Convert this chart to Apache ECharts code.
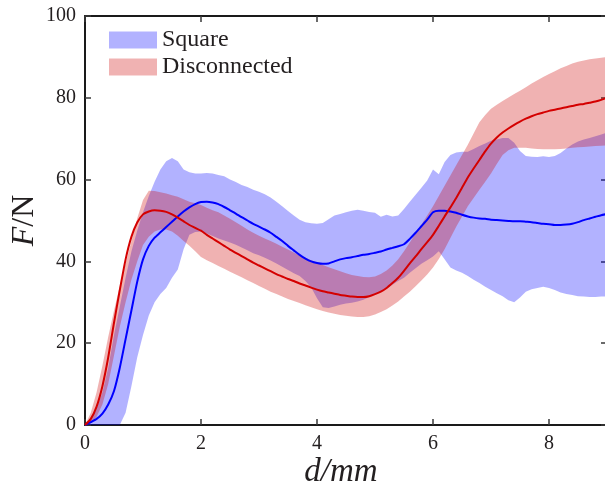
<!DOCTYPE html>
<html>
<head>
<meta charset="utf-8">
<script src="https://cdn.jsdelivr.net/npm/echarts@6/dist/echarts.min.js"></script>
<style>
  html, body { margin: 0; padding: 0; background: #ffffff; }
  #chart { width: 605px; height: 481px; }
</style>
</head>
<body>
<div id="chart"></div>
<script>
// displacement d (mm), sampled every 0.1 mm
const d = [
  0.0, 0.1, 0.2, 0.3, 0.4, 0.5, 0.6, 0.7, 0.8, 0.9,
  1.0, 1.1, 1.2, 1.3, 1.4, 1.5, 1.6, 1.7, 1.8, 1.9,
  2.0, 2.1, 2.2, 2.3, 2.4, 2.5, 2.6, 2.7, 2.8, 2.9,
  3.0, 3.1, 3.2, 3.3, 3.4, 3.5, 3.6, 3.7, 3.8, 3.9,
  4.0, 4.1, 4.2, 4.3, 4.4, 4.5, 4.6, 4.7, 4.8, 4.9,
  5.0, 5.1, 5.2, 5.3, 5.4, 5.5, 5.6, 5.7, 5.8, 5.9,
  6.0, 6.1, 6.2, 6.3, 6.4, 6.5, 6.6, 6.7, 6.8, 6.9,
  7.0, 7.1, 7.2, 7.3, 7.4, 7.5, 7.6, 7.7, 7.8, 7.9,
  8.0, 8.1, 8.2, 8.3, 8.4, 8.5, 8.6, 8.7, 8.8, 8.9,
  9.0
];

// Square: mean force and spread (N)
const squareMean = [
  0, 0.7, 1.5, 2.8, 5, 8.3, 14, 21, 28, 35,
  40.5, 43.8, 45.8, 47.1, 48.4, 49.7, 51, 52.2, 53.2, 54,
  54.5, 54.6, 54.4, 54, 53.3, 52.5, 51.7, 50.8, 50, 49.2,
  48.5, 47.8, 47, 46, 45, 43.8, 42.7, 41.6, 40.7, 40,
  39.6, 39.4, 39.5, 40, 40.5, 40.8, 41, 41.3, 41.6, 41.8,
  42.1, 42.4, 42.9, 43.3, 43.7, 44.2, 45.5, 47, 48.6, 50.2,
  52, 52.4, 52.4, 52.2, 51.9, 51.4, 51, 50.7, 50.5, 50.4,
  50.2, 50.1, 50, 49.9, 49.8, 49.8, 49.7, 49.6, 49.4, 49.2,
  49.1, 48.9, 48.9, 49, 49.2, 49.6, 50.1, 50.5, 50.9, 51.3,
  51.6
];
const squareHigh = [
  0, 1.5, 4, 8, 14, 22, 29, 36, 42.4, 47.5,
  52, 56, 59.5, 62.5, 64.5, 65.3, 64.5, 62.5, 61.8, 61.5,
  61.5, 61.6, 61.5, 61.1, 60.8, 60, 59.4, 58.7, 58.2, 57.5,
  57, 56.4, 55.6, 54.6, 53.5, 52.3, 51.2, 50.2, 49.6, 49.3,
  49.2, 49.4, 50.3, 51.2, 51.6, 52, 52.4, 52.6, 52.4, 52.1,
  51.9, 50.9, 51.4, 51, 51.2, 52.8, 54.6, 56.3, 58, 59.8,
  62.5, 61.3, 64.3, 66, 66.6, 66.8, 66.8, 67.5, 68.2, 68.8,
  69.5, 69.8, 70.2, 70.2, 69, 67, 65.8, 65.6, 65.5, 65.7,
  65.5, 65.8, 66.5, 67.6, 68.6, 69.3, 69.8, 70.2, 70.6, 71,
  71.5
];
const squareLow = [
  0, 0, 0, 0, 0, 0, 0, 3, 9.5, 16.5,
  22, 26.8, 30, 32, 33.5, 36, 38, 43, 46.5, 47.2,
  47.3, 46.8, 46.2, 45.6, 45.1, 44.6, 44.1, 43.4, 42.7, 42,
  41.5, 40.9, 40.2, 39.5, 38.7, 37.9, 37.1, 36.4, 35.2, 33.6,
  31, 28.8, 28.6, 29, 29.4, 29.7, 29.9, 30.2, 30.6, 31.3,
  32, 32.6, 33.3, 34.3, 35.2, 36, 37.2, 38.3, 39.4, 40.3,
  41.2, 42.5, 40.5, 38.5, 37.8, 37.2, 36.4, 35.5, 34.7, 33.8,
  33, 32.2, 31.5, 30.5, 30, 31.2, 32.6, 33.2, 33.5, 33.8,
  33.5, 33, 32.4, 32, 31.8, 31.5, 31.4, 31.3, 31.3, 31.4,
  31.4
];

// Disconnected: mean force and spread (N)
const discMean = [
  0, 1.5, 4.5, 9.5, 16.5, 25, 33, 40.5, 46, 49.5,
  51.5, 52.2, 52.5, 52.4, 52.1, 51.5, 50.7, 49.8, 48.9, 48.2,
  47.5, 46.5, 45.6, 44.7, 43.8, 42.9, 42.1, 41.3, 40.5, 39.7,
  39, 38.3, 37.6, 36.9, 36.3, 35.7, 35.2, 34.6, 34.1, 33.6,
  33.1, 32.7, 32.4, 32.1, 31.8, 31.6, 31.4, 31.3, 31.3, 31.5,
  32, 32.6, 33.5, 34.7, 36, 37.7, 39.5, 41.2, 43, 44.7,
  46.5, 48.7, 51, 53.2, 55.5, 58, 60.5, 62.7, 64.8, 66.9,
  68.8, 70.3, 71.5, 72.5, 73.4, 74.2, 74.9, 75.5, 76, 76.4,
  76.8, 77.1, 77.4, 77.7, 78, 78.3, 78.5, 78.8, 79.1, 79.5,
  80
];
const discHigh = [
  0, 3, 8, 14.5, 21.5, 28, 34, 39.5, 45, 50.5,
  55, 57.3, 57.2, 56.9, 56.6, 56.2, 55.8, 55.2, 54.6, 54.2,
  53.8, 53.1, 52.5, 52, 51.2, 50.4, 49.6, 48.7, 47.8, 47,
  46.3, 45.6, 45, 44.3, 43.6, 42.9, 42.2, 41.5, 40.9, 40.3,
  39.7, 39.1, 38.6, 38.1, 37.6, 37.1, 36.7, 36.4, 36.2, 36.1,
  36.3, 36.9, 37.8, 39, 40.5, 42.5, 44.6, 46.8, 49, 51.2,
  53.5, 56, 58.5, 61, 63.5, 66, 68.5, 71.3, 74, 75.8,
  77.3, 78.3, 79.2, 80.1, 80.9, 81.7, 82.6, 83.5, 84.3, 85.1,
  85.8, 86.5, 87.2, 87.8, 88.4, 88.8, 89.1, 89.4, 89.6, 89.8,
  90
];
const discLow = [
  0, 0.5, 2, 5, 10, 17, 24, 30, 35.5, 40,
  44, 46, 47.3, 47.8, 47.8, 47.3, 46.3, 45, 43.8, 42.5,
  41.1, 40.3, 39.6, 38.9, 38.2, 37.5, 36.8, 36.1, 35.4, 34.7,
  34, 33.3, 32.6, 32, 31.4, 30.8, 30.3, 29.8, 29.3, 28.8,
  28.3, 27.9, 27.5, 27.2, 26.9, 26.7, 26.5, 26.4, 26.4, 26.6,
  27, 27.6, 28.3, 29.2, 30.2, 31.4, 32.6, 33.9, 35.3, 36.8,
  38.5, 40.6, 43, 45.7, 48.5, 51, 53.5, 55.5, 57.5, 59.5,
  61.5, 63.8, 66, 67.2, 67.8, 67.8, 67.8, 67.6, 67.5, 67.4,
  67.4, 67.4, 67.5, 67.6, 67.8, 67.9, 68, 68.1, 68.2, 68.3,
  68.4
];

const xTicks = [0, 2, 4, 6, 8];
const yTicks = [0, 20, 40, 60, 80, 100];

const FONT = 'Liberation Serif';
const INK = '#231f20';
const SQUARE_FILL = 'rgba(0,0,255,0.3)';
const DISC_FILL = 'rgba(204,0,0,0.3)';

const pairs = ys => d.map((x, i) => [x, ys[i]]);

// one closed polygon per band: upper edge left→right, lower edge right→left
function bandSeries(name, lo, hi, fill, z) {
  return {
    name: name,
    type: 'custom',
    silent: true,
    z: z,
    itemStyle: { color: fill },
    encode: { x: 0, y: [1, 2] },
    data: d.map((x, i) => [x, lo[i], hi[i]]),
    renderItem: function (params, api) {
      if (params.dataIndex !== 0) return null;
      const pts = [];
      for (let i = 0; i < d.length; i++) pts.push(api.coord([d[i], hi[i]]));
      for (let i = d.length - 1; i >= 0; i--) pts.push(api.coord([d[i], lo[i]]));
      return { type: 'polygon', shape: { points: pts }, style: { fill: fill, stroke: null } };
    }
  };
}

const frameLine = { show: true, onZero: false, lineStyle: { color: '#1a1a1a', width: 2 } };
const innerTick = { show: true, inside: true, length: 6, lineStyle: { color: '#3a3a3a', width: 1.5 } };

const chart = echarts.init(document.getElementById('chart'), null, { renderer: 'canvas' });

chart.setOption({
  animation: false,
  backgroundColor: '#ffffff',
  grid: { left: 85, top: 16, width: 522, height: 409, containLabel: false, outerBoundsMode: 'none' },
  legend: {
    orient: 'vertical',
    left: 109,
    top: 28,
    padding: 0,
    itemWidth: 48,
    itemHeight: 17,
    itemGap: 3,
    selectedMode: false,
    textStyle: { fontFamily: FONT, fontSize: 24, color: INK },
    data: [
      { name: 'Square', icon: 'rect', itemStyle: { color: SQUARE_FILL, borderWidth: 0 } },
      { name: 'Disconnected', icon: 'rect', itemStyle: { color: DISC_FILL, borderWidth: 0 } }
    ]
  },
  xAxis: [
    {
      type: 'value', position: 'bottom', min: 0, max: 9, interval: 2,
      axisLine: frameLine, axisTick: innerTick, splitLine: { show: false },
      axisLabel: {
        fontFamily: FONT, fontSize: 20, color: INK, margin: 9,
        formatter: v => (xTicks.indexOf(v) >= 0 ? String(v) : '')
      },
      name: 'd/mm', nameLocation: 'middle', nameGap: 31, nameMoveOverlap: false,
      nameTextStyle: { fontFamily: FONT, fontStyle: 'italic', fontSize: 33, color: INK, padding: [0, 10, 0, 0] }
    },
    {
      type: 'value', position: 'top', min: 0, max: 9, interval: 2,
      axisLine: frameLine, axisTick: innerTick, axisLabel: { show: false }, splitLine: { show: false }
    }
  ],
  yAxis: [
    {
      type: 'value', position: 'left', min: 0, max: 100, interval: 20,
      axisLine: frameLine, axisTick: innerTick, splitLine: { show: false },
      axisLabel: {
        fontFamily: FONT, fontSize: 20, color: INK, margin: 9,
        formatter: v => (yTicks.indexOf(v) >= 0 ? String(v) : '')
      },
      name: '{i|F}/N', nameLocation: 'middle', nameGap: 44, nameRotate: 90, nameMoveOverlap: false,
      nameTextStyle: {
        fontFamily: FONT, fontSize: 32, color: INK,
        rich: { i: { fontFamily: FONT, fontStyle: 'italic', fontSize: 32, color: INK } }
      }
    },
    {
      type: 'value', position: 'right', min: 0, max: 100, interval: 20,
      axisLine: frameLine, axisTick: innerTick, axisLabel: { show: false }, splitLine: { show: false }
    }
  ],
  series: [
    bandSeries('Square', squareLow, squareHigh, SQUARE_FILL, 1),
    bandSeries('Disconnected', discLow, discHigh, DISC_FILL, 2),
    {
      name: 'squareMeanLine', type: 'line', data: pairs(squareMean),
      symbol: 'none', silent: true, smooth: 0.2,
      lineStyle: { color: '#0000ff', width: 2 }, z: 3
    },
    {
      name: 'discMeanLine', type: 'line', data: pairs(discMean),
      symbol: 'none', silent: true, smooth: 0.2,
      lineStyle: { color: '#d40000', width: 2 }, z: 4
    }
  ]
});
</script>
</body>
</html>
